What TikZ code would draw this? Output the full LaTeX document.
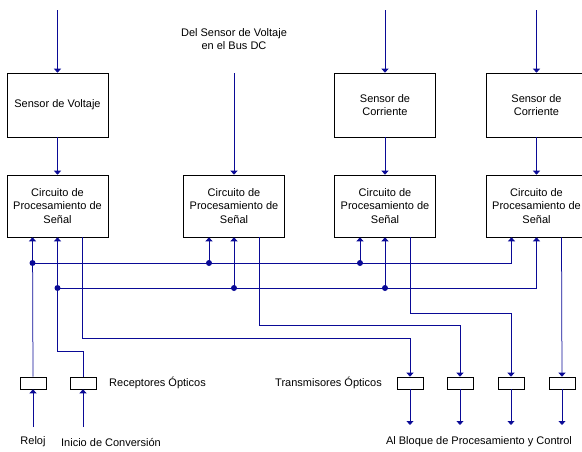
\documentclass[tikz,border=0pt]{standalone}
\usepackage{fontspec}
\setmainfont{Liberation Sans}
\usepackage{xcolor}
\usepackage{tikz}
\usetikzlibrary{arrows.meta}
\definecolor{wire}{RGB}{10,10,150}

\begin{document}
\begin{tikzpicture}[
  x=1pt,y=-1pt,
  font=\fontsize{11}{13.5}\selectfont,
  box/.style={draw,line width=0.6pt,minimum width=101pt,align=center,inner sep=0pt},
  sens/.style={box,minimum height=64pt},
  proc/.style={box,minimum height=62pt},
  opto/.style={draw,line width=0.6pt,minimum width=26pt,minimum height=12pt,inner sep=0pt},
  lbl/.style={inner sep=0pt,align=center},
  sig/.style={wire,line width=0.75pt},
  dot/.style={circle,fill=wire,inner sep=0pt,minimum size=6pt},
  >={Triangle[width=7pt,length=4pt]}]
  \useasboundingbox (0,0) rectangle (582,451);
  % sensores
  \node (sv) [sens] at (57.5,105) {Sensor de Voltaje};
  \node (sc1) [sens] at (385,105) {Sensor de\\Corriente};
  \node (sc2) [sens] at (536.5,105) {Sensor de\\Corriente};
  \node (dc) [lbl] at (234,39) {Del Sensor de Voltaje\\en el Bus DC};
  \coordinate (tin1) at (57.5,10);
  \coordinate (tin2) at (385,10);
  \coordinate (tin3) at (536.5,10);
  \coordinate (dcin) at (234,73);
  % circuitos de procesamiento
  \node (cp1) [proc] at (57.5,206) {Circuito de\\Procesamiento de\\Se\~nal};
  \node (cp2) [proc] at (234,206) {Circuito de\\Procesamiento de\\Se\~nal};
  \node (cp3) [proc] at (385,206) {Circuito de\\Procesamiento de\\Se\~nal};
  \node (cp4) [proc] at (536.5,206) {Circuito de\\Procesamiento de\\Se\~nal};
  \foreach \n in {1,...,4} {
    \coordinate (cp\n a) at ([xshift=-25pt]cp\n.south);
    \coordinate (cp\n b) at (cp\n.south);
    \coordinate (cp\n c) at ([xshift=25pt]cp\n.south);
  }
  % receptores y transmisores
  \node (rx1) [opto] at (33,383) {};
  \node (rx2) [opto] at (83,383) {};
  \node (tx1) [opto] at (410,383) {};
  \node (tx2) [opto] at (460,383) {};
  \node (tx3) [opto] at (511,383) {};
  \node (tx4) [opto] at (562,383) {};
  \node (rxl) [lbl,anchor=west] at (109,383) {Receptores \'Opticos};
  \node (txl) [lbl,anchor=east] at (382,383) {Transmisores \'Opticos};
  \node (rel) [lbl] at (33,442) {Reloj};
  \node (ini) [lbl] at (111,442) {Inicio de Conversi\'on};
  \node (abc) [lbl] at (479,442) {Al Bloque de Procesamiento y Control};
  \coordinate (rlin) at (33,427);
  \coordinate (icin) at (83,427);
  \foreach \n in {1,...,4} \coordinate (out\n) at (tx\n.south |- 0,425);
  \coordinate (busa) at (0,263);
  \coordinate (busb) at (0,288);
  \coordinate (lv1) at (0,338);
  \coordinate (lv2) at (0,325);
  \coordinate (lv3) at (0,313);
  \coordinate (lic) at (0,351);

  % entradas superiores
  \draw[sig,->] (tin1) -- (sv);
  \draw[sig,->] (tin2) -- (sc1);
  \draw[sig,->] (tin3) -- (sc2);
  \draw[sig,->] (dcin) -- (cp2);
  \draw[sig,->] (sv) -- (cp1);
  \draw[sig,->] (sc1) -- (cp3);
  \draw[sig,->] (sc2) -- (cp4);

  % bus de reloj
  \draw[sig,->] (rx1.north) -- (cp1a);
  \draw[sig,->] (cp1a |- busa) -- (cp4a |- busa) -- (cp4a);
  \draw[sig,->] (cp2a |- busa) -- (cp2a);
  \draw[sig,->] (cp3a |- busa) -- (cp3a);
  \node (da1) [dot] at (cp1a |- busa) {};
  \node (da2) [dot] at (cp2a |- busa) {};
  \node (da3) [dot] at (cp3a |- busa) {};

  % bus de inicio de conversion
  \draw[sig,->] (rx2.north) -- (rx2.north |- lic) -- (cp1b |- lic) -- (cp1b);
  \draw[sig,->] (cp1b |- busb) -- (cp4b |- busb) -- (cp4b);
  \draw[sig,->] (cp2b |- busb) -- (cp2b);
  \draw[sig,->] (cp3b |- busb) -- (cp3b);
  \node (db1) [dot] at (cp1b |- busb) {};
  \node (db2) [dot] at (cp2b |- busb) {};
  \node (db3) [dot] at (cp3b |- busb) {};

  % salidas
  \draw[sig,->] (cp1c) |- (lv1 -| tx1.north) -- (tx1.north);
  \draw[sig,->] (cp2c) |- (lv2 -| tx2.north) -- (tx2.north);
  \draw[sig,->] (cp3c) |- (lv3 -| tx3.north) -- (tx3.north);
  \draw[sig,->] (cp4c) -- (tx4.north);
  \foreach \n in {1,...,4} \draw[sig,->] (tx\n.south) -- (out\n);
  \draw[sig,->] (rlin) -- (rx1.south);
  \draw[sig,->] (icin) -- (rx2.south);
\end{tikzpicture}
\end{document}
